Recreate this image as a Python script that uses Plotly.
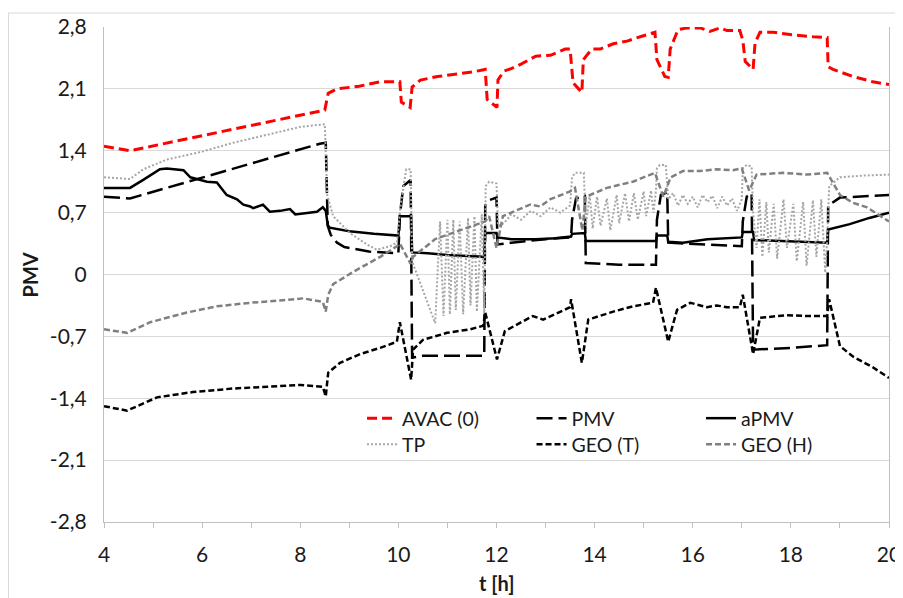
import plotly.graph_objects as go

# ---------------- data ----------------
avac_t = [4.0, 4.53, 8.50, 8.57, 8.75, 9.2, 9.63, 10.03, 10.06, 10.24, 10.28, 10.45, 10.8, 11.2, 11.5, 11.77,
          11.81, 12.01, 12.03, 12.15, 12.3, 12.5, 12.8, 13.1, 13.4, 13.5, 13.56, 13.74, 13.77, 13.94,
          14.11, 14.38, 14.66, 14.93, 15.23, 15.27, 15.43, 15.50, 15.54, 15.70, 15.89, 16.15, 16.35, 16.56,
          16.70, 16.96, 17.02, 17.07, 17.23, 17.27, 17.37, 17.64, 18.05, 18.45, 18.74, 18.76, 18.86, 19.27,
          19.67, 20.0]
avac_v = [1.45, 1.40, 1.86, 2.05, 2.10, 2.13, 2.18, 2.18, 1.95, 1.89, 2.12, 2.20, 2.24, 2.27, 2.29, 2.32,
          1.98, 1.89, 2.20, 2.30, 2.33, 2.38, 2.47, 2.48, 2.55, 2.55, 2.17, 2.06, 2.43, 2.55,
          2.55, 2.61, 2.64, 2.69, 2.74, 2.43, 2.24, 2.23, 2.55, 2.77, 2.79, 2.79, 2.75, 2.79,
          2.76, 2.76, 2.65, 2.41, 2.32, 2.62, 2.74, 2.74, 2.71, 2.69, 2.68, 2.35, 2.32, 2.24,
          2.18, 2.15]

pmv_t = [4.0, 4.53, 8.40, 8.52, 8.56, 8.62, 8.75, 8.9, 9.4, 10.0, 10.03, 10.1, 10.25, 10.28, 10.5, 11.0,
         11.75, 11.77, 11.85, 12.0, 12.02, 12.3, 13.0, 13.52, 13.54, 13.62, 13.8, 13.82, 14.5, 15.25,
         15.27, 15.35, 15.48, 15.50, 16.5, 17.0, 17.02, 17.1, 17.2, 17.23, 18.0, 18.74, 18.76, 19.0, 20.0]
pmv_v = [0.88, 0.86, 1.48, 1.49, 0.55, 0.45, 0.36, 0.31, 0.26, 0.24, 0.66, 1.00, 1.07, -0.94, -0.92, -0.92,
         -0.92, 0.78, 0.84, 0.87, 0.34, 0.36, 0.40, 0.42, 0.62, 0.86, 0.89, 0.13, 0.11, 0.11,
         0.62, 0.90, 0.93, 0.36, 0.33, 0.32, 0.60, 0.88, 0.92, -0.85, -0.83, -0.80, 0.78, 0.87, 0.90]

apmv_t = [4.0, 4.53, 4.8, 5.14, 5.28, 5.55, 5.62, 5.76, 5.96, 6.1, 6.3, 6.5, 6.71, 6.84, 6.98, 7.04,
          7.24, 7.38, 7.59, 7.79, 7.9, 8.14, 8.34, 8.46, 8.52, 8.56, 8.6, 9.0, 9.5, 10.0, 10.03, 10.26,
          10.28, 10.6, 11.0, 11.4, 11.75, 11.77, 12.0, 12.02, 12.3, 12.8, 13.2, 13.52, 13.54, 13.8,
          13.82, 14.5, 15.25, 15.27, 15.48, 15.5, 15.8, 16.3, 17.0, 17.02, 17.23, 17.25, 17.8, 18.74,
          18.76, 19.2, 19.6, 20.0]
apmv_v = [0.98, 0.98, 1.07, 1.19, 1.20, 1.18, 1.18, 1.10, 1.07, 1.05, 1.04, 0.90, 0.85, 0.79, 0.77, 0.75,
          0.79, 0.71, 0.72, 0.74, 0.68, 0.70, 0.71, 0.76, 0.72, 0.56, 0.53, 0.49, 0.46, 0.44, 0.66, 0.66,
          0.25, 0.24, 0.22, 0.21, 0.20, 0.47, 0.47, 0.42, 0.40, 0.40, 0.41, 0.43, 0.46, 0.47,
          0.38, 0.38, 0.38, 0.44, 0.44, 0.37, 0.36, 0.40, 0.42, 0.48, 0.48, 0.39, 0.38, 0.36,
          0.51, 0.57, 0.64, 0.70]

tp_t = [4.0, 4.53, 4.8, 5.28, 6.0, 6.63, 7.32, 8.0, 8.5, 8.55, 8.67, 9.01, 9.36, 9.56, 9.83, 9.97,
        10.05, 10.16, 10.25, 10.28, 10.75, 10.85, 10.92, 11.0, 11.05, 11.12, 11.17, 11.25, 11.32, 11.42,
        11.47, 11.55, 11.6, 11.7, 11.75, 11.78, 11.85, 12.0, 12.03, 12.15, 12.3, 12.5, 12.7, 12.9,
        13.1, 13.3, 13.5, 13.54, 13.6, 13.78, 13.82, 13.9, 13.96, 14.05, 14.12, 14.25, 14.32, 14.45,
        14.5, 14.62, 14.7, 14.8, 14.88, 15.0, 15.05, 15.15, 15.2, 15.25, 15.27, 15.33, 15.45, 15.5,
        15.6, 15.7, 15.8, 15.9, 16.0, 16.1, 16.2, 16.3, 16.4, 16.5, 16.6, 16.7, 16.8, 16.9, 17.0,
        17.02, 17.1, 17.2, 17.23, 17.3, 17.36, 17.42, 17.5, 17.55, 17.65, 17.72, 17.85, 17.92, 18.05,
        18.12, 18.25, 18.32, 18.45, 18.52, 18.62, 18.7, 18.74, 18.78, 19.0, 19.5, 20.0]
tp_v = [1.10, 1.08, 1.19, 1.30, 1.39, 1.49, 1.58, 1.67, 1.70, 0.90, 0.66, 0.47, 0.34, 0.28, 0.32, 0.36,
        0.80, 1.19, 1.19, 0.15, -0.55, 0.60, -0.47, 0.62, -0.45, 0.62, -0.40, 0.60, -0.45, 0.64,
        -0.35, 0.66, -0.42, 0.68, -0.45, 1.00, 1.05, 1.03, 0.55, 0.58, 0.68, 0.62, 0.72, 0.66,
        0.76, 0.70, 0.78, 1.10, 1.15, 1.15, 0.55, 0.90, 0.52, 0.88, 0.55, 0.86, 0.50, 0.90,
        0.58, 0.92, 0.60, 0.92, 0.62, 0.94, 0.66, 0.95, 0.70, 0.95, 1.20, 1.24, 1.24, 0.85,
        0.92, 0.78, 0.90, 0.80, 0.88, 0.76, 0.90, 0.82, 0.89, 0.75, 0.88, 0.78, 0.86, 0.72, 0.85,
        1.20, 1.24, 1.22, 0.70, 0.30, 0.85, 0.20, 0.82, 0.25, 0.80, 0.18, 0.85, 0.30, 0.80,
        0.15, 0.82, 0.10, 0.84, 0.20, 0.85, 0.02, 0.40, 1.00, 1.10, 1.12, 1.13]

geot_t = [4.0, 4.47, 5.08, 5.81, 6.63, 7.32, 8.0, 8.46, 8.52, 8.57, 8.81, 9.22, 9.63, 9.97, 10.03, 10.26,
          10.3, 10.5, 10.99, 11.46, 11.73, 11.77, 12.01, 12.17, 12.74, 12.95, 13.5, 13.52, 13.74, 13.87,
          14.38, 14.78, 15.19, 15.25, 15.5, 15.68, 15.95, 16.29, 16.49, 16.7, 16.96, 17.02, 17.23, 17.37,
          17.92, 18.33, 18.74, 18.78, 19.0, 19.27, 19.67, 20.0]
geot_v = [-1.49, -1.54, -1.39, -1.33, -1.29, -1.27, -1.25, -1.27, -1.38, -1.11, -1.00, -0.90, -0.83, -0.76, -0.54, -1.19,
          -0.85, -0.74, -0.66, -0.62, -0.58, -0.43, -0.96, -0.64, -0.47, -0.51, -0.37, -0.28, -1.00, -0.51,
          -0.42, -0.36, -0.32, -0.15, -0.76, -0.40, -0.32, -0.37, -0.35, -0.37, -0.37, -0.23, -0.90, -0.49,
          -0.46, -0.47, -0.47, -0.28, -0.81, -0.93, -1.05, -1.17]

geoh_t = [4.0, 4.47, 4.94, 5.69, 6.3, 6.98, 7.65, 8.06, 8.46, 8.52, 8.57, 8.67, 9.08, 9.63, 9.97, 10.03,
          10.25, 10.3, 10.75, 11.3, 11.77, 11.85, 12.0, 12.13, 12.68, 12.89, 13.09, 13.5, 13.6, 13.75,
          13.82, 14.25, 14.78, 15.23, 15.4, 15.55, 15.8, 16.15, 16.49, 16.82, 17.0, 17.15, 17.3, 17.84,
          18.33, 18.74, 19.0, 19.27, 19.55, 20.0]
geoh_v = [-0.62, -0.66, -0.54, -0.43, -0.36, -0.32, -0.29, -0.27, -0.31, -0.42, -0.23, -0.11, 0.03, 0.20, 0.32, 0.35,
          0.12, 0.20, 0.40, 0.51, 0.60, 0.66, 0.30, 0.66, 0.79, 0.77, 0.85, 0.94, 0.98, 0.50,
          0.88, 0.98, 1.05, 1.15, 0.88, 1.10, 1.17, 1.17, 1.19, 1.18, 1.20, 0.95, 1.13, 1.15,
          1.13, 1.15, 0.90, 0.81, 0.76, 0.60]

x_tickvals = [4, 6, 8, 10, 12, 14, 16, 18, 20]
y_tickvals = [2.8, 2.1, 1.4, 0.7, 0, -0.7, -1.4, -2.1, -2.8]
y_ticktext = ["2,8", "2,1", "1,4", "0,7", "0", "-0,7", "-1,4", "-2,1", "-2,8"]

FONT = "Lato, 'Open Sans', sans-serif"
GRID = "#d9d9d9"
TXT = "#1a1a1a"

fig = go.Figure()
fig.add_trace(go.Scatter(x=avac_t, y=avac_v, mode="lines", name="AVAC (0)", legend="legend",
                         line=dict(color="#ff0000", width=3, dash="10px,5px")))
fig.add_trace(go.Scatter(x=pmv_t, y=pmv_v, mode="lines", name="PMV", legend="legend",
                         line=dict(color="#000000", width=2.5, dash="16px,6px")))
fig.add_trace(go.Scatter(x=apmv_t, y=apmv_v, mode="lines", name="aPMV", legend="legend",
                         line=dict(color="#000000", width=2.5)))
fig.add_trace(go.Scatter(x=tp_t, y=tp_v, mode="lines", name="TP", legend="legend2",
                         line=dict(color="#a6a6a6", width=2, dash="2px,2px")))
fig.add_trace(go.Scatter(x=geot_t, y=geot_v, mode="lines", name="GEO (T)", legend="legend2",
                         line=dict(color="#000000", width=2.5, dash="6px,3px")))
fig.add_trace(go.Scatter(x=geoh_t, y=geoh_v, mode="lines", name="GEO (H)", legend="legend2",
                         line=dict(color="#808080", width=2.5, dash="6px,3px")))

legend_common = dict(orientation="h", x=0.3287, xanchor="left", yanchor="top",
                     entrywidth=124.5, entrywidthmode="pixels", bgcolor="rgba(0,0,0,0)",
                     font=dict(family=FONT, size=19.5, color=TXT), borderwidth=0,
                     tracegroupgap=0)

# The page body has an 8px margin, so the figure is sized/offset to compensate.
fig.update_layout(
    width=895, height=590,
    margin=dict(l=96, r=14, t=19, b=76, autoexpand=False),
    paper_bgcolor="white", plot_bgcolor="white",
    font=dict(family=FONT, size=19, color=TXT),
    showlegend=True,
    legend=dict(legend_common, y=0.2485),
    legend2=dict(legend_common, y=0.196),
    xaxis=dict(range=[4, 20], tickvals=x_tickvals, showgrid=False, zeroline=False,
               showline=True, linecolor="#bfbfbf", linewidth=1, automargin=False,
               ticks="outside", ticklen=5, tickcolor="#bfbfbf",
               minor=dict(dtick=1, ticks="outside", ticklen=5, tickcolor="#bfbfbf", showgrid=False),
               ticklabelstandoff=9, tickfont=dict(size=21)),
    yaxis=dict(range=[-2.8, 2.8], tickvals=y_tickvals, ticktext=y_ticktext,
               showgrid=True, gridcolor=GRID, gridwidth=1, zeroline=False, automargin=False,
               showline=True, linecolor="#bfbfbf", linewidth=1, mirror=True,
               ticks="", ticklabelstandoff=12, tickfont=dict(size=21)),
    annotations=[
        dict(text="<b>PMV</b>", x=-0.0943, y=0.5, xref="paper", yref="paper", textangle=-90,
             xanchor="center", yanchor="middle",
             showarrow=False, font=dict(size=20, family=FONT, color=TXT)),
        dict(text="<b>t [h]</b>", x=0.5, y=-0.1232, xref="paper", yref="paper",
             xanchor="center", yanchor="middle",
             showarrow=False, font=dict(size=20, family=FONT, color=TXT)),
    ],
    shapes=[dict(type="rect", xref="paper", yref="paper", x0=-0.1217, x1=1.0153, y0=-0.2, y1=1.0283,
                 line=dict(color="#d9d9d9", width=1), layer="below")],
)

fig.write_html("out.html")
